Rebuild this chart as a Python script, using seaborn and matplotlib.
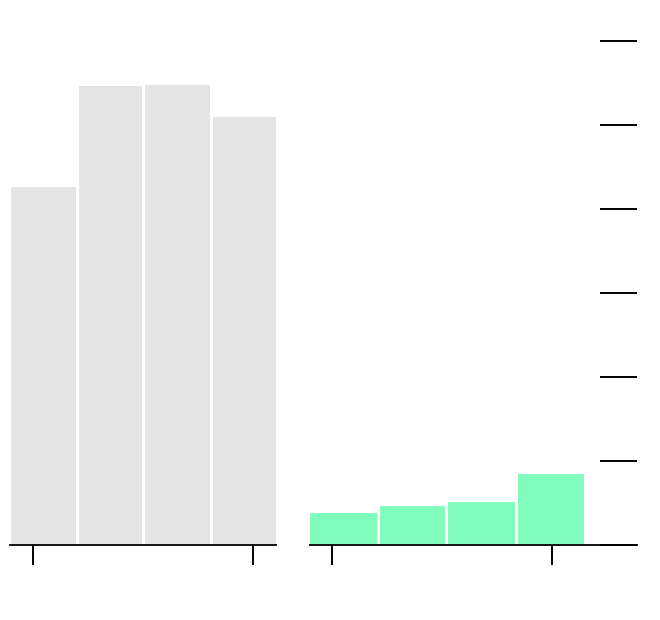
import matplotlib
matplotlib.use("Agg")
import matplotlib.pyplot as plt
import seaborn as sns
import numpy as np

# Data
left_edges = [-1.07, 1.98, 5.02, 8.07, 11.11]
left_values = [4.29, 5.49, 5.50, 5.12]
right_edges = [-1.07, 2.07, 5.20, 8.34, 11.48]
right_values = [0.395, 0.486, 0.534, 0.864]
x_ticks = [0, 10]
y_ticks = [0, 1, 2, 3, 4, 5, 6]

left_color = "#e4e4e4"
right_color = "#80fcbc"

sns.set_style("white")
fig = plt.figure(figsize=(6.6, 6.2), dpi=100)

W, H = 660.0, 620.0
base = 544.5
top = 20.0
unit_px = 83.9
ymax = (base - top) / unit_px

ax1 = fig.add_axes([10 / W, (H - base) / H, 266 / W, (base - top) / H])
ax2 = fig.add_axes([310 / W, (H - base) / H, 327 / W, (base - top) / H])

def centers(edges):
    e = np.asarray(edges)
    return (e[:-1] + e[1:]) / 2

sns.histplot(x=centers(left_edges), weights=left_values, bins=left_edges, ax=ax1,
             color=left_color, alpha=1, edgecolor="white", linewidth=2.2)
sns.histplot(x=centers(right_edges), weights=right_values, bins=right_edges, ax=ax2,
             color=right_color, alpha=1, edgecolor="white", linewidth=2.2)

ax1.set_xlim(-1.045, 11.045)
ax2.set_xlim(-1.0, 13.86)
for ax in (ax1, ax2):
    ax.set_ylim(0, ymax)
    ax.set_xticks(x_ticks)
    ax.set_xticklabels([])
    ax.set_xlabel("")
    ax.set_ylabel("")
    for s in ("top", "left", "right"):
        ax.spines[s].set_visible(False)
    ax.spines["bottom"].set_color("black")
    ax.spines["bottom"].set_linewidth(1.3)
    ax.tick_params(axis="x", direction="out", length=14.2, width=1.4, color="black",
                   bottom=True, labelbottom=False)

ax1.set_yticks([])
ax2.yaxis.tick_right()
ax2.set_yticks(y_ticks)
ax2.set_yticklabels([])
ax2.tick_params(axis="y", direction="in", length=26.6, width=1.4, color="black",
                right=True, left=False, labelright=False, labelleft=False)

fig.savefig("out.png", dpi=100)
